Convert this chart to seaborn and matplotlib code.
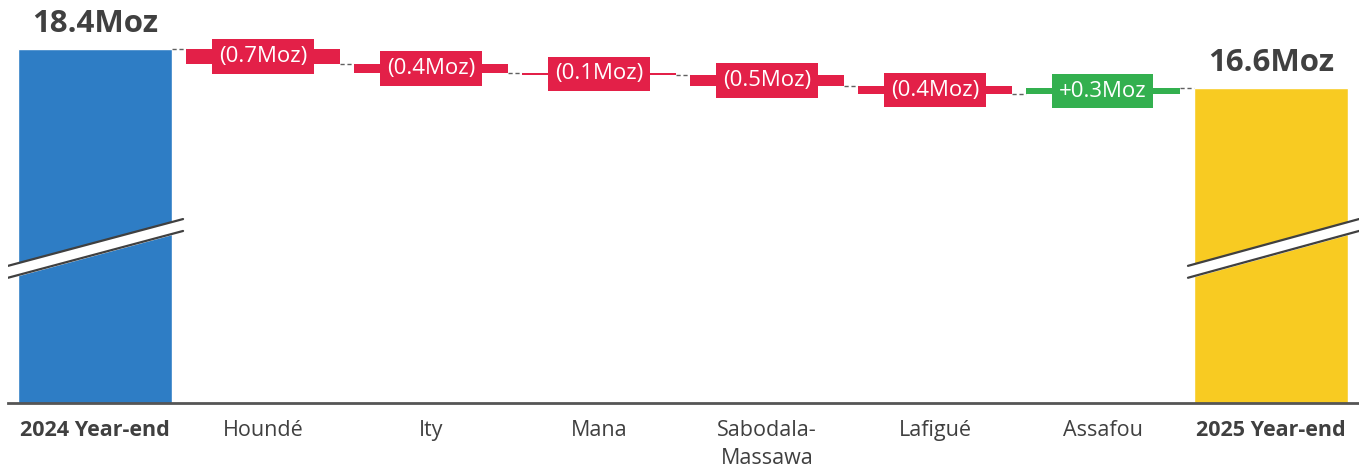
import numpy as np
import pandas as pd
import matplotlib
matplotlib.use("Agg")
import matplotlib.pyplot as plt
import seaborn as sns

# ----------------------------------------------
# Data
# ----------------------------------------------
CATEGORIES = ["2024 Year-end", "Houndé", "Ity", "Mana", "Sabodala-\nMassawa",
              "Lafigué", "Assafou", "2025 Year-end"]
START_TOTAL = 18.4
END_TOTAL = 16.6
DELTAS = [-0.7, -0.4, -0.1, -0.5, -0.4, 0.3]
DELTA_LABELS = ["(0.7Moz)", "(0.4Moz)", "(0.1Moz)", "(0.5Moz)", "(0.4Moz)", "+0.3Moz"]
TOTAL_LABELS = ["18.4Moz", "16.6Moz"]

BLUE = "#2E7DC5"
YELLOW = "#F8CB22"
RED = "#E32048"
GREEN = "#33B04F"
DARK = "#404040"
BAR_W = 0.92

sns.set_theme(style="white")
plt.rcParams["font.family"] = ["Open Sans", "DejaVu Sans"]

fig = plt.figure(figsize=(13.59, 4.72), dpi=100)
ax = fig.add_axes([8 / 1359, 69 / 472, 1351 / 1359, 403 / 472])

# totals via seaborn
totals = pd.DataFrame({
    "cat": CATEGORIES,
    "value": [START_TOTAL] + [np.nan] * len(DELTAS) + [END_TOTAL],
    "kind": ["start"] + ["delta"] * len(DELTAS) + ["end"],
})
sns.barplot(data=totals, x="cat", y="value", hue="kind", order=CATEGORIES,
            palette={"start": BLUE, "delta": RED, "end": YELLOW},
            width=BAR_W, dodge=False, legend=False, saturation=1, ax=ax)

# floating delta bars
levels = START_TOTAL + np.concatenate([[0], np.cumsum(DELTAS)])
for i, d in enumerate(DELTAS):
    x = i + 1
    lo, hi = levels[i], levels[i + 1]
    color = GREEN if d > 0 else RED
    ax.bar(x, hi - lo, bottom=lo, width=BAR_W, color=color, linewidth=0)
    ax.text(x, (lo + hi) / 2, DELTA_LABELS[i], ha="center", va="center",
            fontsize=16, color="white",
            bbox=dict(boxstyle="square,pad=0.3", fc=color, ec="none"))

# connectors
for i in range(len(levels)):
    ax.plot([i + BAR_W / 2, i + 1 - BAR_W / 2], [levels[i], levels[i]],
            ls=(0, (3, 2)), color="#606060", lw=1)

# total labels
for x, v, lab in zip([0, len(CATEGORIES) - 1], [START_TOTAL, END_TOTAL], TOTAL_LABELS):
    ax.text(x, v + 0.45, lab, ha="center", va="bottom", fontsize=22.5,
            fontweight="bold", color=DARK)

# axis break marks
for x0, x1 in [(-0.518, 0.524), (6.506, 7.524)]:
    ys_top = [8.39, 10.55]
    ys_bot = [7.84, 10.0]
    ax.fill_between([x0, x1], ys_bot, ys_top, color="white", zorder=5)
    ax.plot([x0, x1], ys_top, color=DARK, lw=1.6, zorder=6)
    ax.plot([x0, x1], ys_bot, color=DARK, lw=1.6, zorder=6)

ax.set_xlim(-0.518, 7.524)
ax.set_ylim(2.06, 20.66)
ax.set_xlabel("")
ax.set_ylabel("")
ax.set_yticks([])
for s in ["top", "right", "left"]:
    ax.spines[s].set_visible(False)
ax.spines["bottom"].set_color("#555555")
ax.spines["bottom"].set_linewidth(2)
ax.tick_params(axis="x", length=0, pad=12, labelsize=15.5, labelcolor=DARK)
for i, t in enumerate(ax.get_xticklabels()):
    t.set_va("top")
    t.set_linespacing(1.45)
    if i in (0, len(CATEGORIES) - 1):
        t.set_fontweight("bold")

fig.savefig("out.png", dpi=100)
